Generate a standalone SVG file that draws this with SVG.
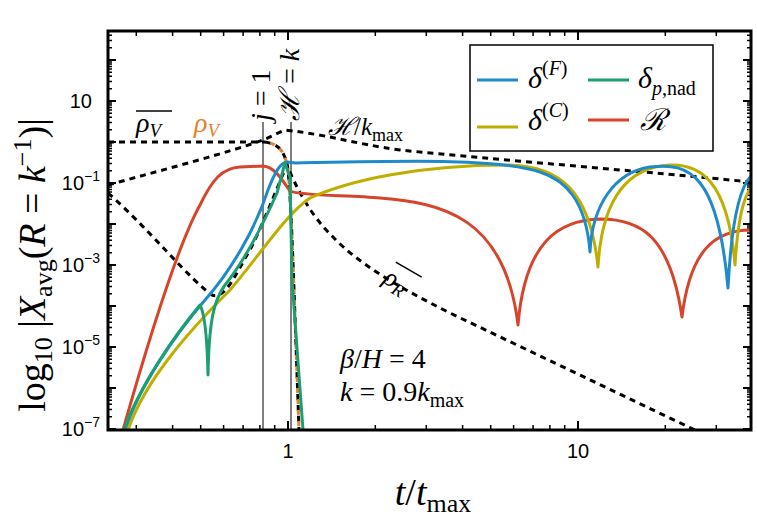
<svg xmlns="http://www.w3.org/2000/svg" width="757" height="523" viewBox="0 0 757 523">
<style>
.c{fill:none;stroke-width:3;stroke-linejoin:round;stroke-linecap:butt}
.d{fill:none;stroke:#000;stroke-width:3;stroke-dasharray:6 5}
.tk{fill:#000;font-family:"Liberation Sans",Arial,sans-serif;font-size:20px}
.m{fill:#000;font-family:"Liberation Serif","DejaVu Serif",serif}
.i{font-style:italic}
</style>
<rect width="757" height="523" fill="#fff"/>
<g id="axes" stroke="#000" fill="none">
<path stroke-width="2" d="M108 429h8M108 388h8M108 347h8M108 306h8M108 265h8M108 224h8M108 183h8M108 142h8M108 101h8M108 60h8M751 429h-8M751 388h-8M751 347h-8M751 306h-8M751 265h-8M751 224h-8M751 183h-8M751 142h-8M751 101h-8M751 60h-8M288 430v-9M578 430v-9M288 31v9M578 31v9"/>
<path stroke-width="1.5" d="M108 416.7h4M108 409.4h4M108 404.3h4M108 400.3h4M108 397.1h4M108 394.4h4M108 392h4M108 389.9h4M108 375.7h4M108 368.4h4M108 363.3h4M108 359.3h4M108 356.1h4M108 353.4h4M108 351h4M108 348.9h4M108 334.7h4M108 327.4h4M108 322.3h4M108 318.3h4M108 315.1h4M108 312.4h4M108 310h4M108 307.9h4M108 293.7h4M108 286.4h4M108 281.3h4M108 277.3h4M108 274.1h4M108 271.4h4M108 269h4M108 266.9h4M108 252.7h4M108 245.4h4M108 240.3h4M108 236.3h4M108 233.1h4M108 230.4h4M108 228h4M108 225.9h4M108 211.7h4M108 204.4h4M108 199.3h4M108 195.3h4M108 192.1h4M108 189.4h4M108 187h4M108 184.9h4M108 170.7h4M108 163.4h4M108 158.3h4M108 154.3h4M108 151.1h4M108 148.4h4M108 146h4M108 143.9h4M108 129.7h4M108 122.4h4M108 117.3h4M108 113.3h4M108 110.1h4M108 107.4h4M108 105h4M108 102.9h4M108 88.7h4M108 81.4h4M108 76.3h4M108 72.3h4M108 69.1h4M108 66.4h4M108 64h4M108 61.9h4M108 47.7h4M108 40.4h4M108 35.3h4
M751 416.7h-4M751 409.4h-4M751 404.3h-4M751 400.3h-4M751 397.1h-4M751 394.4h-4M751 392h-4M751 389.9h-4M751 375.7h-4M751 368.4h-4M751 363.3h-4M751 359.3h-4M751 356.1h-4M751 353.4h-4M751 351h-4M751 348.9h-4M751 334.7h-4M751 327.4h-4M751 322.3h-4M751 318.3h-4M751 315.1h-4M751 312.4h-4M751 310h-4M751 307.9h-4M751 293.7h-4M751 286.4h-4M751 281.3h-4M751 277.3h-4M751 274.1h-4M751 271.4h-4M751 269h-4M751 266.9h-4M751 252.7h-4M751 245.4h-4M751 240.3h-4M751 236.3h-4M751 233.1h-4M751 230.4h-4M751 228h-4M751 225.9h-4M751 211.7h-4M751 204.4h-4M751 199.3h-4M751 195.3h-4M751 192.1h-4M751 189.4h-4M751 187h-4M751 184.9h-4M751 170.7h-4M751 163.4h-4M751 158.3h-4M751 154.3h-4M751 151.1h-4M751 148.4h-4M751 146h-4M751 143.9h-4M751 129.7h-4M751 122.4h-4M751 117.3h-4M751 113.3h-4M751 110.1h-4M751 107.4h-4M751 105h-4M751 102.9h-4M751 88.7h-4M751 81.4h-4M751 76.3h-4M751 72.3h-4M751 69.1h-4M751 66.4h-4M751 64h-4M751 61.9h-4M751 47.7h-4M751 40.4h-4M751 35.3h-4
M136.3 430v-5M172.6 430v-5M200.7 430v-5M223.6 430v-5M243.1 430v-5M259.9 430v-5M274.7 430v-5M375.3 430v-5M426.3 430v-5M462.6 430v-5M490.7 430v-5M513.6 430v-5M533.1 430v-5M549.9 430v-5M564.7 430v-5M665.3 430v-5M716.3 430v-5
M136.3 31v5M172.6 31v5M200.7 31v5M223.6 31v5M243.1 31v5M259.9 31v5M274.7 31v5M375.3 31v5M426.3 31v5M462.6 31v5M490.7 31v5M513.6 31v5M533.1 31v5M549.9 31v5M564.7 31v5M665.3 31v5M716.3 31v5"/>
</g>
<g id="ticklabels" class="tk">
<text x="92" y="108" text-anchor="end">10</text>
<text x="100" y="190" text-anchor="end">10<tspan font-size="14" dy="-9">−1</tspan></text>
<text x="100" y="272" text-anchor="end">10<tspan font-size="14" dy="-9">−3</tspan></text>
<text x="100" y="354" text-anchor="end">10<tspan font-size="14" dy="-9">−5</tspan></text>
<text x="100" y="436" text-anchor="end">10<tspan font-size="14" dy="-9">−7</tspan></text>
<text x="288" y="458" text-anchor="middle">1</text>
<text x="578" y="458" text-anchor="middle">10</text>
</g>
<g id="connectors">
<path stroke="#000" stroke-width="1" d="M263 122V430M291 122V430"/>
<path class="d" d="M108 142H265"/>
<path class="d" d="M108 185C170 168 230 152 263 140L285 130C330 135 350 143 400 150C500 160 650 172 751 182"/>
<path class="d" d="M108 193C150 230 190 280 212 295C225 300 235 275 250 250C265 220 280 180 287 165C295 185 310 215 333 237C360 265 400 288 450 313L695 430"/>
<path class="d" d="M265 142C278 144 285 150 288 170C291 200 293 260 299 430"/>
<path fill="none" stroke="#e8802a" stroke-width="3" stroke-dasharray="5 6" stroke-dashoffset="6" d="M265 142C278 144 285 150 288 170C291 200 293 260 299 430"/>
<path class="c" stroke="#d6452b" d="M123 430C140 370 175 250 200 205C212 180 222 168 240 167L263 166C275 167 282 180 290 191C300 196 350 195 380 198C440 203 505 215 518 325C525 240 560 220 600 219C640 219 670 235 682 317C690 250 715 230 751 230"/>
<path class="c" stroke="#bfae00" d="M128 430C145 380 190 330 230 290C260 255 285 215 310 198C350 180 420 165 508 165C560 166 590 190 598 267C602 195 630 167 670 165C700 164 728 180 735 265C738 215 745 195 751 188"/>
<path class="c" stroke="#1f8ac9" d="M125 430C140 385 175 335 205 300C230 272 255 230 268 190C275 172 280 163 287 162L295 163C400 161 500 158 540 172C565 180 586 200 590 252C592 205 615 172 650 167C690 162 718 175 728 288C732 210 742 185 751 176"/>
<path class="c" stroke="#1c9e74" d="M124 430C140 385 175 335 200 305C204 312 207 330 208 375C209 320 214 300 225 285C245 260 265 220 277 193L285 163L290 177L292 280L303 430"/>
</g>
<g id="labels" class="m">
<text class="i" x="136" y="132" font-size="28">ρ<tspan font-size="19" dy="5">V</tspan></text>
<path d="M136 111H172" stroke="#000" stroke-width="1.5"/>
<text class="i" x="194" y="132" font-size="28" fill="#e8802a">ρ<tspan font-size="19" dy="5">V</tspan></text>
<text x="328" y="135" font-size="25"><tspan class="i">ℋ</tspan>/<tspan class="i">k</tspan><tspan font-size="18" dy="6">max</tspan></text>
<g transform="translate(382,282) rotate(30)"><text class="i" x="0" y="0" font-size="26">ρ<tspan font-size="18" dy="5">R</tspan></text><path d="M2 -24H32" stroke="#000" stroke-width="1.5"/></g>
<text transform="translate(270,121) rotate(-90)" font-size="28"><tspan class="i">j</tspan> = 1</text>
<text transform="translate(299,121) rotate(-90)" font-size="28"><tspan class="i">ℋ</tspan> = <tspan class="i">k</tspan></text>
<text x="340" y="368" font-size="28"><tspan class="i">β</tspan>/<tspan class="i">H</tspan> = 4</text>
<text x="340" y="401" font-size="28"><tspan class="i">k</tspan> = 0.9<tspan class="i">k</tspan><tspan font-size="20" dy="6">max</tspan></text>
<text x="433" y="505" font-size="38" text-anchor="middle"><tspan class="i">t</tspan>/<tspan class="i">t</tspan><tspan font-size="26" dy="7">max</tspan></text>
<text transform="translate(45,265) rotate(-90)" font-size="38" text-anchor="middle">log<tspan font-size="26" dy="7">10</tspan><tspan dy="-7"> |</tspan><tspan class="i">X</tspan><tspan font-size="26" dy="7">avg</tspan><tspan dy="-7">(</tspan><tspan class="i">R</tspan> = <tspan class="i">k</tspan><tspan font-size="26" dy="-14">−1</tspan><tspan dy="14">)|</tspan></text>
</g>
<g id="legend">
<rect x="470" y="45" width="243" height="106" fill="#fff" stroke="#000" stroke-width="1.5"/>
<path d="M477 80h41" stroke="#1f8ac9" stroke-width="3"/>
<path d="M588 80h41" stroke="#1c9e74" stroke-width="3"/>
<path d="M477 127h41" stroke="#bfae00" stroke-width="3"/>
<path d="M588 120h41" stroke="#d6452b" stroke-width="3"/>
<text class="m" x="528" y="88" font-size="30"><tspan class="i">δ</tspan><tspan font-size="20" dy="-13">(<tspan class="i">F</tspan>)</tspan></text>
<text class="m" x="638" y="88" font-size="30"><tspan class="i">δ</tspan><tspan font-size="20" dy="7"><tspan class="i">p</tspan>,nad</tspan></text>
<text class="m" x="528" y="130" font-size="30"><tspan class="i">δ</tspan><tspan font-size="20" dy="-13">(<tspan class="i">C</tspan>)</tspan></text>
<text class="m i" x="640" y="130" font-size="30">ℛ</text>
</g>
<rect id="frame" x="108" y="31" width="643" height="399" fill="none" stroke="#000" stroke-width="3"/>
</svg>
